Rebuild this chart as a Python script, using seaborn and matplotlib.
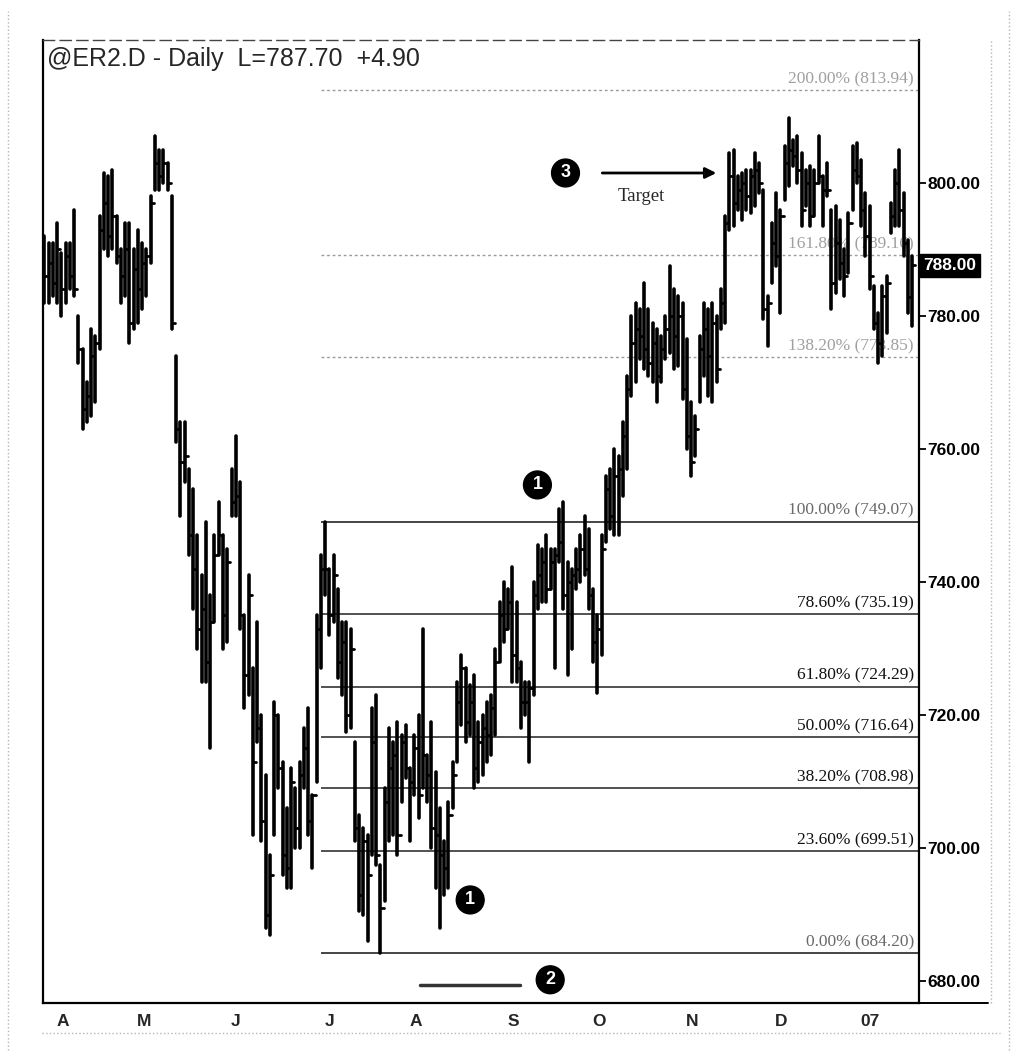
import numpy as np
import pandas as pd
import matplotlib.pyplot as plt
import matplotlib.transforms as mtransforms
from matplotlib.lines import Line2D
import seaborn as sns

# @ER2.D daily bars (late Mar 2006 - mid Jan 2007)
highs = [
    792, 791, 791, 794, 789.5, 791, 791, 796, 780, 775,
    770, 778, 777, 795, 801.5, 801, 802, 795, 790, 794,
    794, 790, 793, 791, 790, 798, 807, 805, 805, 803,
    798, 774, 764, 764, 757, 754, 747, 741, 749, 738,
    747, 752, 747, 745, 757, 762, 755, 735, 741, 727,
    734, 720, 711, 699, 722, 720, 713, 706, 712, 709,
    713, 718, 721, 708, 735, 744, 749.07, 742, 744, 739,
    734, 734, 733, 716, 705, 703, 702, 721, 723, 697.5,
    709, 718, 716, 719, 717, 718.5, 712, 717, 720, 733,
    714, 719, 711.5, 706, 701, 707, 713, 725, 729, 727,
    724.5, 726, 719, 720, 722, 723, 730, 737, 740, 739,
    742.3, 737, 728, 725, 725, 740, 745.5, 745, 747, 745,
    745, 751, 752, 743, 742, 745, 747, 750, 748, 739,
    735, 747, 756, 757, 760, 759, 764, 771, 780, 782,
    781, 785, 781, 779, 778, 777, 780, 787.5, 784, 783,
    782, 776.5, 767, 765, 777, 782, 781, 782, 780, 784,
    795, 804.5, 805, 801, 801.5, 802, 802, 804.5, 803, 799,
    783, 794, 798.5, 796, 805.5, 809.7, 806.5, 807, 804.5, 802,
    802.5, 802, 807, 801, 803, 796, 796.5, 794.5, 790, 795.5,
    805.5, 806, 803.5, 798.5, 796.5, 784.5, 780.5, 784.5, 786, 797,
    802, 805, 798.5, 791.5, 789,
]
lows = [
    782, 782, 783, 782, 780, 782, 784, 783, 773, 763,
    764, 765, 767, 775, 790, 789, 790, 788, 782, 783,
    776, 778, 779, 781, 783, 788, 799, 799, 800, 799,
    778, 761, 750, 755, 744, 736, 730, 725, 725, 715,
    734, 744, 730, 731, 750, 750, 733, 721, 723, 702,
    716, 701, 688, 687, 702, 709, 696, 694, 694, 700,
    700, 709, 702, 697, 710, 727, 738, 732, 734, 725.5,
    723, 717.5, 718, 701, 690.5, 690, 686, 699, 697.5, 684.2,
    692, 701, 702, 699, 707, 710.5, 701, 708, 704.5, 709,
    707, 700, 694, 688, 693, 694, 706, 713, 718.5, 716,
    717, 709, 710, 711, 713, 714, 717, 728, 731, 733,
    725, 725, 718, 720, 713, 723, 736, 737, 737, 739,
    727, 743, 736, 726, 730, 739, 740, 741, 736, 728,
    723.3, 729, 746, 748, 747, 747, 753, 757, 768, 770,
    773.5, 772, 771, 770, 767, 770, 773.5, 774.5, 772, 772.5,
    767.5, 760, 756, 759, 767, 771, 768, 767, 770, 778,
    779, 793, 793.5, 796, 794.5, 796, 795.5, 796.5, 798.5, 779.5,
    775.5, 785, 787.5, 780.5, 797.5, 799.5, 802.5, 800, 793.5, 796.5,
    793.5, 795, 800, 793.5, 798, 781, 783.5, 785.5, 783, 786.5,
    796, 800, 793.5, 789, 784, 778, 773, 774, 777.5, 792.5,
    793.5, 793.5, 789, 780.5, 778.5,
]
closes = [
    786, 788, 785, 790, 784, 789, 786, 784, 775, 766,
    768, 774, 776, 793, 797, 792, 795, 789, 786, 790,
    779, 787, 784, 788, 789, 797, 803, 801, 803, 800,
    779, 763, 758, 759, 747, 742, 733, 736, 728, 734,
    744, 747, 735, 743, 752, 753, 735, 726, 738, 713,
    718, 704, 690, 696, 720, 712, 699, 697, 710, 703,
    711, 715, 704, 708, 733, 742, 742, 735, 741, 728,
    731, 720, 730, 703, 693, 701, 696, 716, 699, 691,
    707, 712, 714, 702, 716, 712, 710, 715, 708, 714,
    711, 703, 702, 699, 697, 705, 711, 722, 727, 719,
    722, 712, 716, 718, 717, 721, 728, 735, 733, 737,
    729, 727, 722, 722, 724, 738, 741, 743, 739, 743,
    744, 746, 738, 740, 741, 742, 745, 742, 738, 731,
    733, 745, 754, 750, 756, 757, 762, 769, 776, 778,
    777, 775, 773, 776, 771, 775, 778, 780, 777, 780,
    769, 762, 758, 763, 775, 778, 774, 779, 772, 782,
    794, 801, 797, 799, 800, 798, 801, 802, 800, 781,
    782, 791, 789, 795, 803, 805, 804, 802, 796, 800,
    795, 800, 801, 799, 799, 785, 791, 788, 786, 794,
    802, 801, 796, 792, 786, 779, 776, 783, 785, 795,
    800, 796, 791, 782.8, 787.7,
]

# x axis: 3 March bars, then bars per month
bars_before = 3
month_labels = ['A', 'M', 'J', 'J', 'A', 'S', 'O', 'N', 'D', '07']
bars_per_month = [19, 22, 22, 20, 23, 20, 22, 21, 20, 13]

# Fibonacci levels from the July high (749.07) to the July low (684.20)
fib_pcts = [0.0, 23.6, 38.2, 50.0, 61.8, 78.6, 100.0, 138.2, 161.8, 200.0]
fib_prices = [684.20, 699.51, 708.98, 716.64, 724.29, 735.19, 749.07, 773.85, 789.16, 813.94]
fib_start_bar = 65

price_ticks = [680, 700, 720, 740, 760, 780, 800]
last_price = 787.70
net_change = 4.90
last_box = '788.00'

sns.set_style('white')
plt.rcParams['font.family'] = ['Liberation Sans', 'DejaVu Sans']

n = len(highs)
bar_ids = np.arange(n)

# long-form tables so seaborn draws every bar and close tick as its own unit
bars = pd.DataFrame({
    'bar': np.repeat(bar_ids, 2),
    'x': np.repeat(bar_ids, 2).astype(float),
    'price': np.column_stack([highs, lows]).ravel(),
})
ticks = pd.DataFrame({
    'bar': np.repeat(bar_ids, 2),
    'x': np.column_stack([bar_ids, bar_ids + 0.75]).ravel(),
    'price': np.repeat(closes, 2),
})

fig = plt.figure(figsize=(10.17, 10.63), dpi=100)
ax = fig.add_axes([0.0423, 0.0564, 0.8614, 0.906])

# Fibonacci lines and labels
for pct, price in zip(fib_pcts, fib_prices):
    if pct > 100:
        col, ls, lw, tcol = '#9a9a9a', (0, (2, 2)), 1.0, '#a0a0a0'
    elif pct in (0.0, 100.0):
        col, ls, lw, tcol = '#444444', '-', 1.4, '#6a6a6a'
    else:
        col, ls, lw, tcol = '#222222', '-', 1.1, '#111111'
    ax.hlines(price, fib_start_bar, n + 0.3, colors=col, linestyles=ls, lw=lw, zorder=1)
    ax.text(n - 0.6, price + 0.45, f'{pct:.2f}% ({price:.2f})', ha='right', va='bottom',
            fontsize=12.5, color=tcol, family=['Liberation Serif', 'DejaVu Serif'], zorder=3)

sns.lineplot(data=bars, x='x', y='price', units='bar', estimator=None, sort=False,
             color='black', lw=2.6, ax=ax, zorder=4)
sns.lineplot(data=ticks, x='x', y='price', units='bar', estimator=None, sort=False,
             color='black', lw=2.0, ax=ax, zorder=4)

ax.set_xlim(-0.3, 205.6)
ax.set_ylim(676.7, 821.5)
ax.set_xlabel('')
ax.set_ylabel('')

# price axis on the right
ax.yaxis.tick_right()
ax.set_yticks(price_ticks)
ax.set_yticklabels([f'{v:.2f}' for v in price_ticks], fontsize=12.5, fontweight='bold')
ax.tick_params(axis='y', direction='out', length=5, width=1.3, pad=1, colors='black')

# month ticks on the bottom
month_starts = bars_before + np.concatenate([[0], np.cumsum(bars_per_month)[:-1]])
ax.set_xticks(month_starts - 0.5)
ax.set_xticklabels([''] * len(month_starts))
ax.set_xticks(np.arange(bars_before, n, 5) - 0.5, minor=True)
ax.tick_params(axis='x', which='major', direction='out', length=8, width=1.3)
ax.tick_params(axis='x', which='minor', direction='out', length=3, width=1.0)
xtrans = mtransforms.blended_transform_factory(ax.transData, ax.transAxes)
for pos, lab in zip(month_starts, month_labels):
    ax.text(pos - 0.2, -0.011, lab, transform=xtrans, ha='left', va='top',
            fontsize=12.5, fontweight='bold')

for side in ['left', 'right', 'bottom']:
    ax.spines[side].set_color('black')
    ax.spines[side].set_linewidth(1.6)
ax.spines['top'].set_color('#444444')
ax.spines['top'].set_linewidth(1.0)
ax.spines['top'].set_linestyle((0, (8, 4)))

# header
ax.text(0.005, 0.993, f'@ER2.D - Daily  L={last_price:.2f}  +{net_change:.2f}',
        transform=ax.transAxes, ha='left', va='top', fontsize=18)

# last price box
ytrans = mtransforms.blended_transform_factory(ax.transAxes, ax.transData)
ax.text(1.005, 787.55, last_box, transform=ytrans, ha='left', va='center',
        fontsize=12.5, fontweight='bold', color='white',
        bbox=dict(boxstyle='square,pad=0.22', fc='black', ec='black'))

# numbered markers
for num, bx, by in [('3', 122.5, 801.5), ('1', 115.9, 754.6), ('1', 100.1, 692.2), ('2', 118.9, 680.2)]:
    ax.text(bx, by, num, ha='center', va='center', color='white', fontsize=13,
            fontweight='bold', zorder=6,
            bbox=dict(boxstyle='circle,pad=0.3', fc='black', ec='black'))

ax.annotate('', xy=(158.6, 801.5), xytext=(130.5, 801.5),
            arrowprops=dict(arrowstyle='-|>', color='black', lw=2, mutation_scale=16))
ax.text(140.2, 797.9, 'Target', ha='center', va='center', fontsize=13.5,
        family=['Liberation Serif', 'DejaVu Serif'])
ax.plot([88.4, 111.9], [679.4, 679.4], color='#333333', lw=2.5)

# scan frame
fcol = '#b5b5b5'
fig.add_artist(Line2D([8 / 1017, 8 / 1017], [0.012, 0.99], color=fcol, lw=1, ls=':'))
fig.add_artist(Line2D([1009 / 1017, 1009 / 1017], [0.012, 0.99], color=fcol, lw=1, ls=':'))
fig.add_artist(Line2D([991 / 1017, 991 / 1017], [0.0564, 0.9624], color=fcol, lw=1, ls=':'))
fig.add_artist(Line2D([42 / 1017, 1000 / 1017], [1 - 1033 / 1063] * 2, color=fcol, lw=1, ls=':'))
fig.add_artist(Line2D([919 / 1017, 988 / 1017], [0.0564, 0.0564], color='black', lw=1.4))

fig.savefig('out.png', dpi=100)
